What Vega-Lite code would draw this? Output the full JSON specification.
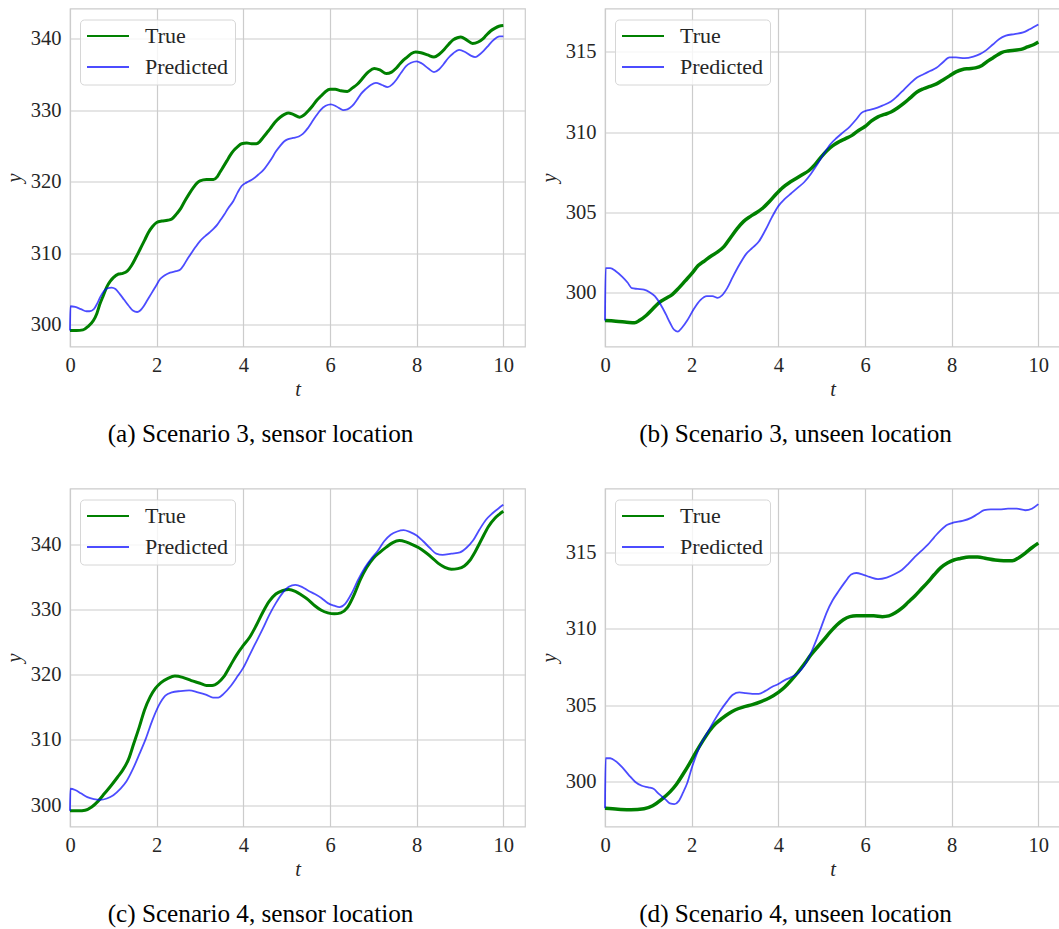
{
  "$schema": "https://vega.github.io/schema/vega-lite/v6.json",
  "background": "white",
  "padding": {"left": 3, "top": 7.5, "right": 0, "bottom": 0},
  "columns": 2,
  "spacing": {"row": 40, "column": 12},
  "config": {
    "font": "Liberation Serif",
    "view": {"stroke": "#cccccc", "strokeWidth": 1.2},
    "axis": {
      "labelFont": "Liberation Serif", "labelFontSize": 20.5, "labelColor": "#262626",
      "titleFont": "Liberation Serif", "titleFontSize": 20.5, "titleFontStyle": "italic", "titleFontWeight": "normal", "titleColor": "#262626",
      "ticks": false, "tickSize": 0, "domain": false, "grid": true, "gridColor": "#cccccc", "gridWidth": 1.2,
      "labelPadding": 9, "labelFlush": false, "labelOverlap": false
    },
    "axisX": {"titlePadding": 3},
    "axisY": {"titlePadding": 6},
    "legend": {
      "title": null, "symbolType": "stroke", "symbolSize": 1764, "symbolStrokeWidth": 2, "clipHeight": 21,
      "labelFont": "Liberation Serif", "labelFontSize": 22, "labelColor": "#262626", "labelOffset": 15,
      "rowPadding": 8, "padding": 6, "strokeColor": "#d6d6d6", "fillColor": "rgba(255,255,255,0.8)", "cornerRadius": 4
    },
    "title": {"orient": "bottom", "font": "Liberation Serif", "fontSize": 25.2, "fontWeight": "normal", "color": "#000000", "offset": 22, "anchor": "middle", "dx": -37}
  },
  "datasets": {
    "a": [
      {"s":"True","t":0,"y":299.2},{"s":"True","t":0.15,"y":299.2},{"s":"True","t":0.3,"y":299.3},{"s":"True","t":0.42,"y":299.8},{"s":"True","t":0.54,"y":300.6},{"s":"True","t":0.62,"y":301.6},{"s":"True","t":0.69,"y":302.9},{"s":"True","t":0.77,"y":304.1},{"s":"True","t":0.85,"y":305.3},{"s":"True","t":0.93,"y":306.1},{"s":"True","t":1.0,"y":306.6},{"s":"True","t":1.12,"y":307.1},{"s":"True","t":1.22,"y":307.2},{"s":"True","t":1.32,"y":307.5},{"s":"True","t":1.42,"y":308.3},{"s":"True","t":1.52,"y":309.4},{"s":"True","t":1.62,"y":310.6},{"s":"True","t":1.72,"y":311.8},{"s":"True","t":1.81,"y":312.9},{"s":"True","t":1.9,"y":313.7},{"s":"True","t":2.0,"y":314.3},{"s":"True","t":2.12,"y":314.5},{"s":"True","t":2.25,"y":314.6},{"s":"True","t":2.35,"y":314.8},{"s":"True","t":2.46,"y":315.5},{"s":"True","t":2.56,"y":316.3},{"s":"True","t":2.65,"y":317.3},{"s":"True","t":2.75,"y":318.3},{"s":"True","t":2.85,"y":319.2},{"s":"True","t":2.93,"y":319.8},{"s":"True","t":3.0,"y":320.1},{"s":"True","t":3.15,"y":320.3},{"s":"True","t":3.31,"y":320.3},{"s":"True","t":3.4,"y":320.7},{"s":"True","t":3.46,"y":321.3},{"s":"True","t":3.54,"y":322.1},{"s":"True","t":3.62,"y":322.9},{"s":"True","t":3.7,"y":323.7},{"s":"True","t":3.77,"y":324.3},{"s":"True","t":3.87,"y":324.9},{"s":"True","t":3.96,"y":325.3},{"s":"True","t":4.08,"y":325.4},{"s":"True","t":4.19,"y":325.3},{"s":"True","t":4.3,"y":325.3},{"s":"True","t":4.38,"y":325.6},{"s":"True","t":4.46,"y":326.2},{"s":"True","t":4.54,"y":326.8},{"s":"True","t":4.62,"y":327.4},{"s":"True","t":4.73,"y":328.3},{"s":"True","t":4.85,"y":329.0},{"s":"True","t":4.95,"y":329.4},{"s":"True","t":5.04,"y":329.6},{"s":"True","t":5.15,"y":329.4},{"s":"True","t":5.3,"y":329.0},{"s":"True","t":5.4,"y":329.3},{"s":"True","t":5.5,"y":329.9},{"s":"True","t":5.6,"y":330.6},{"s":"True","t":5.7,"y":331.4},{"s":"True","t":5.8,"y":332.0},{"s":"True","t":5.9,"y":332.6},{"s":"True","t":6.0,"y":332.9},{"s":"True","t":6.12,"y":332.9},{"s":"True","t":6.25,"y":332.7},{"s":"True","t":6.4,"y":332.6},{"s":"True","t":6.52,"y":333.1},{"s":"True","t":6.63,"y":333.6},{"s":"True","t":6.72,"y":334.2},{"s":"True","t":6.8,"y":334.8},{"s":"True","t":6.9,"y":335.4},{"s":"True","t":7.02,"y":335.8},{"s":"True","t":7.15,"y":335.6},{"s":"True","t":7.3,"y":335.1},{"s":"True","t":7.42,"y":335.3},{"s":"True","t":7.52,"y":335.8},{"s":"True","t":7.62,"y":336.5},{"s":"True","t":7.7,"y":337.0},{"s":"True","t":7.78,"y":337.4},{"s":"True","t":7.88,"y":337.9},{"s":"True","t":7.98,"y":338.1},{"s":"True","t":8.1,"y":338.0},{"s":"True","t":8.25,"y":337.7},{"s":"True","t":8.4,"y":337.4},{"s":"True","t":8.52,"y":337.8},{"s":"True","t":8.64,"y":338.5},{"s":"True","t":8.74,"y":339.2},{"s":"True","t":8.84,"y":339.8},{"s":"True","t":8.94,"y":340.1},{"s":"True","t":9.02,"y":340.2},{"s":"True","t":9.15,"y":339.8},{"s":"True","t":9.29,"y":339.3},{"s":"True","t":9.42,"y":339.5},{"s":"True","t":9.52,"y":339.9},{"s":"True","t":9.6,"y":340.4},{"s":"True","t":9.7,"y":341.0},{"s":"True","t":9.8,"y":341.4},{"s":"True","t":9.9,"y":341.7},{"s":"True","t":10,"y":341.8},
      {"s":"Predicted","t":0,"y":299.2},{"s":"Predicted","t":0.01,"y":302.6},{"s":"Predicted","t":0.12,"y":302.5},{"s":"Predicted","t":0.25,"y":302.2},{"s":"Predicted","t":0.38,"y":301.9},{"s":"Predicted","t":0.45,"y":301.9},{"s":"Predicted","t":0.55,"y":302.2},{"s":"Predicted","t":0.63,"y":303.0},{"s":"Predicted","t":0.7,"y":303.9},{"s":"Predicted","t":0.78,"y":304.7},{"s":"Predicted","t":0.86,"y":305.1},{"s":"Predicted","t":0.96,"y":305.2},{"s":"Predicted","t":1.05,"y":305.0},{"s":"Predicted","t":1.15,"y":304.3},{"s":"Predicted","t":1.25,"y":303.5},{"s":"Predicted","t":1.35,"y":302.7},{"s":"Predicted","t":1.45,"y":302.0},{"s":"Predicted","t":1.55,"y":301.8},{"s":"Predicted","t":1.62,"y":302.0},{"s":"Predicted","t":1.7,"y":302.6},{"s":"Predicted","t":1.78,"y":303.4},{"s":"Predicted","t":1.88,"y":304.4},{"s":"Predicted","t":1.98,"y":305.4},{"s":"Predicted","t":2.08,"y":306.4},{"s":"Predicted","t":2.18,"y":306.9},{"s":"Predicted","t":2.31,"y":307.3},{"s":"Predicted","t":2.45,"y":307.5},{"s":"Predicted","t":2.54,"y":307.7},{"s":"Predicted","t":2.63,"y":308.4},{"s":"Predicted","t":2.72,"y":309.3},{"s":"Predicted","t":2.81,"y":310.1},{"s":"Predicted","t":2.9,"y":310.9},{"s":"Predicted","t":3.0,"y":311.7},{"s":"Predicted","t":3.12,"y":312.4},{"s":"Predicted","t":3.22,"y":312.9},{"s":"Predicted","t":3.31,"y":313.4},{"s":"Predicted","t":3.4,"y":314.0},{"s":"Predicted","t":3.48,"y":314.7},{"s":"Predicted","t":3.56,"y":315.4},{"s":"Predicted","t":3.65,"y":316.3},{"s":"Predicted","t":3.77,"y":317.3},{"s":"Predicted","t":3.87,"y":318.5},{"s":"Predicted","t":3.96,"y":319.4},{"s":"Predicted","t":4.08,"y":319.9},{"s":"Predicted","t":4.23,"y":320.4},{"s":"Predicted","t":4.35,"y":321.0},{"s":"Predicted","t":4.46,"y":321.6},{"s":"Predicted","t":4.56,"y":322.4},{"s":"Predicted","t":4.65,"y":323.2},{"s":"Predicted","t":4.75,"y":324.2},{"s":"Predicted","t":4.85,"y":325.0},{"s":"Predicted","t":4.94,"y":325.6},{"s":"Predicted","t":5.02,"y":325.9},{"s":"Predicted","t":5.15,"y":326.1},{"s":"Predicted","t":5.28,"y":326.3},{"s":"Predicted","t":5.38,"y":326.7},{"s":"Predicted","t":5.48,"y":327.4},{"s":"Predicted","t":5.58,"y":328.3},{"s":"Predicted","t":5.68,"y":329.2},{"s":"Predicted","t":5.78,"y":330.0},{"s":"Predicted","t":5.9,"y":330.6},{"s":"Predicted","t":6.02,"y":330.8},{"s":"Predicted","t":6.15,"y":330.5},{"s":"Predicted","t":6.3,"y":330.0},{"s":"Predicted","t":6.4,"y":330.1},{"s":"Predicted","t":6.52,"y":330.6},{"s":"Predicted","t":6.62,"y":331.4},{"s":"Predicted","t":6.72,"y":332.3},{"s":"Predicted","t":6.82,"y":332.9},{"s":"Predicted","t":6.94,"y":333.5},{"s":"Predicted","t":7.06,"y":333.8},{"s":"Predicted","t":7.2,"y":333.5},{"s":"Predicted","t":7.33,"y":333.2},{"s":"Predicted","t":7.44,"y":333.6},{"s":"Predicted","t":7.54,"y":334.3},{"s":"Predicted","t":7.64,"y":335.2},{"s":"Predicted","t":7.75,"y":336.1},{"s":"Predicted","t":7.87,"y":336.6},{"s":"Predicted","t":8.0,"y":336.8},{"s":"Predicted","t":8.12,"y":336.5},{"s":"Predicted","t":8.27,"y":335.8},{"s":"Predicted","t":8.4,"y":335.3},{"s":"Predicted","t":8.52,"y":335.7},{"s":"Predicted","t":8.62,"y":336.4},{"s":"Predicted","t":8.72,"y":337.2},{"s":"Predicted","t":8.84,"y":337.9},{"s":"Predicted","t":8.98,"y":338.4},{"s":"Predicted","t":9.12,"y":338.1},{"s":"Predicted","t":9.25,"y":337.6},{"s":"Predicted","t":9.35,"y":337.4},{"s":"Predicted","t":9.46,"y":337.8},{"s":"Predicted","t":9.55,"y":338.3},{"s":"Predicted","t":9.64,"y":338.9},{"s":"Predicted","t":9.74,"y":339.6},{"s":"Predicted","t":9.84,"y":340.1},{"s":"Predicted","t":9.92,"y":340.3},{"s":"Predicted","t":10,"y":340.3}
    ],
    "b": [
      {"s":"True","t":0,"y":298.28},{"s":"True","t":0.25,"y":298.24},{"s":"True","t":0.5,"y":298.18},{"s":"True","t":0.68,"y":298.14},{"s":"True","t":0.8,"y":298.3},{"s":"True","t":0.95,"y":298.6},{"s":"True","t":1.1,"y":299.0},{"s":"True","t":1.25,"y":299.4},{"s":"True","t":1.4,"y":299.65},{"s":"True","t":1.55,"y":299.9},{"s":"True","t":1.7,"y":300.3},{"s":"True","t":1.85,"y":300.75},{"s":"True","t":2.0,"y":301.2},{"s":"True","t":2.15,"y":301.7},{"s":"True","t":2.3,"y":302.0},{"s":"True","t":2.45,"y":302.3},{"s":"True","t":2.6,"y":302.55},{"s":"True","t":2.75,"y":302.9},{"s":"True","t":2.9,"y":303.45},{"s":"True","t":3.05,"y":304.0},{"s":"True","t":3.2,"y":304.45},{"s":"True","t":3.35,"y":304.75},{"s":"True","t":3.5,"y":305.0},{"s":"True","t":3.65,"y":305.3},{"s":"True","t":3.8,"y":305.7},{"s":"True","t":3.95,"y":306.15},{"s":"True","t":4.1,"y":306.55},{"s":"True","t":4.25,"y":306.85},{"s":"True","t":4.4,"y":307.1},{"s":"True","t":4.55,"y":307.35},{"s":"True","t":4.7,"y":307.6},{"s":"True","t":4.85,"y":308.0},{"s":"True","t":5.0,"y":308.5},{"s":"True","t":5.12,"y":308.85},{"s":"True","t":5.25,"y":309.15},{"s":"True","t":5.4,"y":309.4},{"s":"True","t":5.55,"y":309.6},{"s":"True","t":5.7,"y":309.8},{"s":"True","t":5.85,"y":310.1},{"s":"True","t":6.0,"y":310.35},{"s":"True","t":6.15,"y":310.7},{"s":"True","t":6.3,"y":310.95},{"s":"True","t":6.45,"y":311.1},{"s":"True","t":6.6,"y":311.25},{"s":"True","t":6.75,"y":311.5},{"s":"True","t":6.9,"y":311.8},{"s":"True","t":7.05,"y":312.15},{"s":"True","t":7.2,"y":312.5},{"s":"True","t":7.35,"y":312.7},{"s":"True","t":7.5,"y":312.85},{"s":"True","t":7.65,"y":313.0},{"s":"True","t":7.8,"y":313.25},{"s":"True","t":7.95,"y":313.5},{"s":"True","t":8.1,"y":313.75},{"s":"True","t":8.25,"y":313.9},{"s":"True","t":8.4,"y":313.95},{"s":"True","t":8.55,"y":314.0},{"s":"True","t":8.7,"y":314.15},{"s":"True","t":8.85,"y":314.45},{"s":"True","t":9.0,"y":314.7},{"s":"True","t":9.15,"y":314.95},{"s":"True","t":9.3,"y":315.05},{"s":"True","t":9.45,"y":315.1},{"s":"True","t":9.6,"y":315.15},{"s":"True","t":9.75,"y":315.3},{"s":"True","t":9.9,"y":315.45},{"s":"True","t":10,"y":315.6},
      {"s":"Predicted","t":0,"y":298.28},{"s":"Predicted","t":0.015,"y":301.55},{"s":"Predicted","t":0.12,"y":301.55},{"s":"Predicted","t":0.25,"y":301.35},{"s":"Predicted","t":0.4,"y":301.0},{"s":"Predicted","t":0.52,"y":300.65},{"s":"Predicted","t":0.62,"y":300.3},{"s":"Predicted","t":0.75,"y":300.25},{"s":"Predicted","t":0.9,"y":300.2},{"s":"Predicted","t":1.03,"y":300.05},{"s":"Predicted","t":1.15,"y":299.8},{"s":"Predicted","t":1.28,"y":299.3},{"s":"Predicted","t":1.4,"y":298.7},{"s":"Predicted","t":1.5,"y":298.15},{"s":"Predicted","t":1.6,"y":297.7},{"s":"Predicted","t":1.68,"y":297.6},{"s":"Predicted","t":1.78,"y":297.85},{"s":"Predicted","t":1.9,"y":298.3},{"s":"Predicted","t":2.05,"y":299.0},{"s":"Predicted","t":2.2,"y":299.55},{"s":"Predicted","t":2.35,"y":299.8},{"s":"Predicted","t":2.48,"y":299.8},{"s":"Predicted","t":2.6,"y":299.7},{"s":"Predicted","t":2.7,"y":299.85},{"s":"Predicted","t":2.82,"y":300.3},{"s":"Predicted","t":2.95,"y":301.0},{"s":"Predicted","t":3.1,"y":301.75},{"s":"Predicted","t":3.25,"y":302.4},{"s":"Predicted","t":3.4,"y":302.8},{"s":"Predicted","t":3.55,"y":303.2},{"s":"Predicted","t":3.7,"y":303.9},{"s":"Predicted","t":3.85,"y":304.7},{"s":"Predicted","t":4.0,"y":305.4},{"s":"Predicted","t":4.15,"y":305.85},{"s":"Predicted","t":4.3,"y":306.2},{"s":"Predicted","t":4.45,"y":306.55},{"s":"Predicted","t":4.6,"y":306.9},{"s":"Predicted","t":4.75,"y":307.4},{"s":"Predicted","t":4.9,"y":308.0},{"s":"Predicted","t":5.05,"y":308.65},{"s":"Predicted","t":5.2,"y":309.25},{"s":"Predicted","t":5.35,"y":309.65},{"s":"Predicted","t":5.5,"y":310.0},{"s":"Predicted","t":5.65,"y":310.35},{"s":"Predicted","t":5.8,"y":310.8},{"s":"Predicted","t":5.92,"y":311.2},{"s":"Predicted","t":6.05,"y":311.35},{"s":"Predicted","t":6.2,"y":311.45},{"s":"Predicted","t":6.4,"y":311.65},{"s":"Predicted","t":6.6,"y":311.9},{"s":"Predicted","t":6.75,"y":312.25},{"s":"Predicted","t":6.9,"y":312.65},{"s":"Predicted","t":7.05,"y":313.05},{"s":"Predicted","t":7.2,"y":313.4},{"s":"Predicted","t":7.35,"y":313.6},{"s":"Predicted","t":7.5,"y":313.8},{"s":"Predicted","t":7.65,"y":314.0},{"s":"Predicted","t":7.8,"y":314.35},{"s":"Predicted","t":7.95,"y":314.65},{"s":"Predicted","t":8.1,"y":314.65},{"s":"Predicted","t":8.3,"y":314.6},{"s":"Predicted","t":8.5,"y":314.7},{"s":"Predicted","t":8.65,"y":314.85},{"s":"Predicted","t":8.8,"y":315.1},{"s":"Predicted","t":8.95,"y":315.45},{"s":"Predicted","t":9.1,"y":315.8},{"s":"Predicted","t":9.25,"y":316.0},{"s":"Predicted","t":9.45,"y":316.1},{"s":"Predicted","t":9.65,"y":316.2},{"s":"Predicted","t":9.8,"y":316.4},{"s":"Predicted","t":10,"y":316.7}
    ],
    "c": [
      {"s":"True","t":0,"y":299.1},{"s":"True","t":0.2,"y":299.1},{"s":"True","t":0.35,"y":299.2},{"s":"True","t":0.5,"y":299.7},{"s":"True","t":0.65,"y":300.6},{"s":"True","t":0.8,"y":301.8},{"s":"True","t":0.95,"y":303.0},{"s":"True","t":1.1,"y":304.3},{"s":"True","t":1.22,"y":305.4},{"s":"True","t":1.35,"y":307.0},{"s":"True","t":1.47,"y":309.4},{"s":"True","t":1.6,"y":312.0},{"s":"True","t":1.72,"y":314.6},{"s":"True","t":1.85,"y":316.6},{"s":"True","t":1.97,"y":317.9},{"s":"True","t":2.1,"y":318.8},{"s":"True","t":2.25,"y":319.4},{"s":"True","t":2.42,"y":319.8},{"s":"True","t":2.6,"y":319.6},{"s":"True","t":2.8,"y":319.1},{"s":"True","t":3.0,"y":318.7},{"s":"True","t":3.15,"y":318.35},{"s":"True","t":3.28,"y":318.35},{"s":"True","t":3.42,"y":318.8},{"s":"True","t":3.55,"y":319.7},{"s":"True","t":3.7,"y":321.4},{"s":"True","t":3.85,"y":323.1},{"s":"True","t":4.0,"y":324.5},{"s":"True","t":4.15,"y":325.8},{"s":"True","t":4.3,"y":327.6},{"s":"True","t":4.45,"y":329.6},{"s":"True","t":4.6,"y":331.3},{"s":"True","t":4.75,"y":332.4},{"s":"True","t":4.9,"y":332.9},{"s":"True","t":5.05,"y":333.1},{"s":"True","t":5.2,"y":332.8},{"s":"True","t":5.35,"y":332.2},{"s":"True","t":5.5,"y":331.5},{"s":"True","t":5.65,"y":330.6},{"s":"True","t":5.8,"y":329.9},{"s":"True","t":5.95,"y":329.5},{"s":"True","t":6.1,"y":329.35},{"s":"True","t":6.25,"y":329.5},{"s":"True","t":6.4,"y":330.3},{"s":"True","t":6.55,"y":332.2},{"s":"True","t":6.7,"y":334.6},{"s":"True","t":6.85,"y":336.5},{"s":"True","t":7.0,"y":337.9},{"s":"True","t":7.15,"y":338.8},{"s":"True","t":7.3,"y":339.6},{"s":"True","t":7.45,"y":340.3},{"s":"True","t":7.6,"y":340.6},{"s":"True","t":7.75,"y":340.4},{"s":"True","t":7.9,"y":340.0},{"s":"True","t":8.05,"y":339.5},{"s":"True","t":8.2,"y":338.8},{"s":"True","t":8.35,"y":338.0},{"s":"True","t":8.5,"y":337.1},{"s":"True","t":8.65,"y":336.5},{"s":"True","t":8.8,"y":336.2},{"s":"True","t":8.95,"y":336.3},{"s":"True","t":9.1,"y":336.7},{"s":"True","t":9.22,"y":337.5},{"s":"True","t":9.35,"y":338.9},{"s":"True","t":9.5,"y":340.8},{"s":"True","t":9.65,"y":342.7},{"s":"True","t":9.8,"y":344.0},{"s":"True","t":9.9,"y":344.6},{"s":"True","t":10,"y":345.1},
      {"s":"Predicted","t":0,"y":299.1},{"s":"Predicted","t":0.01,"y":302.5},{"s":"Predicted","t":0.12,"y":302.3},{"s":"Predicted","t":0.25,"y":301.8},{"s":"Predicted","t":0.4,"y":301.2},{"s":"Predicted","t":0.55,"y":300.9},{"s":"Predicted","t":0.7,"y":300.8},{"s":"Predicted","t":0.85,"y":301.0},{"s":"Predicted","t":1.0,"y":301.5},{"s":"Predicted","t":1.15,"y":302.4},{"s":"Predicted","t":1.3,"y":303.6},{"s":"Predicted","t":1.45,"y":305.5},{"s":"Predicted","t":1.6,"y":307.8},{"s":"Predicted","t":1.75,"y":310.2},{"s":"Predicted","t":1.9,"y":313.0},{"s":"Predicted","t":2.05,"y":315.3},{"s":"Predicted","t":2.2,"y":316.8},{"s":"Predicted","t":2.35,"y":317.3},{"s":"Predicted","t":2.55,"y":317.5},{"s":"Predicted","t":2.75,"y":317.6},{"s":"Predicted","t":2.95,"y":317.3},{"s":"Predicted","t":3.15,"y":316.9},{"s":"Predicted","t":3.3,"y":316.5},{"s":"Predicted","t":3.42,"y":316.5},{"s":"Predicted","t":3.55,"y":317.1},{"s":"Predicted","t":3.7,"y":318.2},{"s":"Predicted","t":3.85,"y":319.6},{"s":"Predicted","t":4.0,"y":321.1},{"s":"Predicted","t":4.15,"y":323.1},{"s":"Predicted","t":4.3,"y":325.1},{"s":"Predicted","t":4.45,"y":327.1},{"s":"Predicted","t":4.6,"y":329.2},{"s":"Predicted","t":4.75,"y":331.0},{"s":"Predicted","t":4.9,"y":332.5},{"s":"Predicted","t":5.05,"y":333.5},{"s":"Predicted","t":5.2,"y":333.8},{"s":"Predicted","t":5.35,"y":333.5},{"s":"Predicted","t":5.5,"y":332.9},{"s":"Predicted","t":5.65,"y":332.4},{"s":"Predicted","t":5.8,"y":331.8},{"s":"Predicted","t":5.95,"y":331.0},{"s":"Predicted","t":6.1,"y":330.6},{"s":"Predicted","t":6.22,"y":330.4},{"s":"Predicted","t":6.35,"y":330.9},{"s":"Predicted","t":6.5,"y":332.5},{"s":"Predicted","t":6.65,"y":334.6},{"s":"Predicted","t":6.8,"y":336.4},{"s":"Predicted","t":6.95,"y":337.8},{"s":"Predicted","t":7.1,"y":339.0},{"s":"Predicted","t":7.25,"y":340.5},{"s":"Predicted","t":7.4,"y":341.5},{"s":"Predicted","t":7.55,"y":342.0},{"s":"Predicted","t":7.7,"y":342.2},{"s":"Predicted","t":7.85,"y":341.9},{"s":"Predicted","t":8.0,"y":341.4},{"s":"Predicted","t":8.15,"y":340.5},{"s":"Predicted","t":8.3,"y":339.5},{"s":"Predicted","t":8.45,"y":338.6},{"s":"Predicted","t":8.6,"y":338.4},{"s":"Predicted","t":8.8,"y":338.6},{"s":"Predicted","t":9.0,"y":338.8},{"s":"Predicted","t":9.15,"y":339.5},{"s":"Predicted","t":9.3,"y":340.6},{"s":"Predicted","t":9.45,"y":342.3},{"s":"Predicted","t":9.6,"y":343.8},{"s":"Predicted","t":9.75,"y":344.8},{"s":"Predicted","t":9.9,"y":345.6},{"s":"Predicted","t":10,"y":346.1}
    ],
    "d": [
      {"s":"True","t":0,"y":298.28},{"s":"True","t":0.3,"y":298.22},{"s":"True","t":0.6,"y":298.18},{"s":"True","t":0.9,"y":298.25},{"s":"True","t":1.1,"y":298.45},{"s":"True","t":1.3,"y":298.85},{"s":"True","t":1.5,"y":299.35},{"s":"True","t":1.65,"y":299.85},{"s":"True","t":1.8,"y":300.5},{"s":"True","t":1.95,"y":301.2},{"s":"True","t":2.1,"y":301.95},{"s":"True","t":2.25,"y":302.65},{"s":"True","t":2.4,"y":303.3},{"s":"True","t":2.55,"y":303.8},{"s":"True","t":2.7,"y":304.15},{"s":"True","t":2.85,"y":304.45},{"s":"True","t":3.0,"y":304.7},{"s":"True","t":3.2,"y":304.9},{"s":"True","t":3.4,"y":305.05},{"s":"True","t":3.6,"y":305.25},{"s":"True","t":3.8,"y":305.5},{"s":"True","t":4.0,"y":305.85},{"s":"True","t":4.15,"y":306.2},{"s":"True","t":4.3,"y":306.65},{"s":"True","t":4.45,"y":307.15},{"s":"True","t":4.6,"y":307.7},{"s":"True","t":4.75,"y":308.3},{"s":"True","t":4.9,"y":308.8},{"s":"True","t":5.05,"y":309.3},{"s":"True","t":5.2,"y":309.8},{"s":"True","t":5.35,"y":310.25},{"s":"True","t":5.5,"y":310.6},{"s":"True","t":5.65,"y":310.8},{"s":"True","t":5.8,"y":310.85},{"s":"True","t":6.0,"y":310.85},{"s":"True","t":6.2,"y":310.85},{"s":"True","t":6.4,"y":310.8},{"s":"True","t":6.55,"y":310.85},{"s":"True","t":6.7,"y":311.05},{"s":"True","t":6.85,"y":311.35},{"s":"True","t":7.0,"y":311.75},{"s":"True","t":7.15,"y":312.15},{"s":"True","t":7.3,"y":312.6},{"s":"True","t":7.45,"y":313.05},{"s":"True","t":7.6,"y":313.55},{"s":"True","t":7.75,"y":314.0},{"s":"True","t":7.9,"y":314.3},{"s":"True","t":8.05,"y":314.5},{"s":"True","t":8.2,"y":314.6},{"s":"True","t":8.4,"y":314.7},{"s":"True","t":8.6,"y":314.7},{"s":"True","t":8.8,"y":314.6},{"s":"True","t":9.0,"y":314.5},{"s":"True","t":9.2,"y":314.45},{"s":"True","t":9.4,"y":314.45},{"s":"True","t":9.55,"y":314.65},{"s":"True","t":9.7,"y":314.95},{"s":"True","t":9.85,"y":315.3},{"s":"True","t":10,"y":315.6},
      {"s":"Predicted","t":0,"y":298.28},{"s":"Predicted","t":0.015,"y":301.55},{"s":"Predicted","t":0.12,"y":301.55},{"s":"Predicted","t":0.25,"y":301.35},{"s":"Predicted","t":0.4,"y":300.95},{"s":"Predicted","t":0.55,"y":300.45},{"s":"Predicted","t":0.7,"y":300.0},{"s":"Predicted","t":0.85,"y":299.75},{"s":"Predicted","t":1.0,"y":299.65},{"s":"Predicted","t":1.12,"y":299.55},{"s":"Predicted","t":1.25,"y":299.2},{"s":"Predicted","t":1.4,"y":298.85},{"s":"Predicted","t":1.5,"y":298.6},{"s":"Predicted","t":1.6,"y":298.55},{"s":"Predicted","t":1.7,"y":298.75},{"s":"Predicted","t":1.8,"y":299.3},{"s":"Predicted","t":1.9,"y":299.95},{"s":"Predicted","t":2.0,"y":300.9},{"s":"Predicted","t":2.1,"y":301.7},{"s":"Predicted","t":2.2,"y":302.4},{"s":"Predicted","t":2.35,"y":303.15},{"s":"Predicted","t":2.5,"y":303.9},{"s":"Predicted","t":2.65,"y":304.6},{"s":"Predicted","t":2.8,"y":305.2},{"s":"Predicted","t":2.95,"y":305.7},{"s":"Predicted","t":3.1,"y":305.85},{"s":"Predicted","t":3.25,"y":305.8},{"s":"Predicted","t":3.4,"y":305.75},{"s":"Predicted","t":3.55,"y":305.75},{"s":"Predicted","t":3.7,"y":305.95},{"s":"Predicted","t":3.85,"y":306.2},{"s":"Predicted","t":4.0,"y":306.4},{"s":"Predicted","t":4.15,"y":306.65},{"s":"Predicted","t":4.3,"y":306.85},{"s":"Predicted","t":4.45,"y":307.1},{"s":"Predicted","t":4.6,"y":307.6},{"s":"Predicted","t":4.75,"y":308.4},{"s":"Predicted","t":4.88,"y":309.3},{"s":"Predicted","t":5.0,"y":310.2},{"s":"Predicted","t":5.12,"y":311.1},{"s":"Predicted","t":5.25,"y":311.85},{"s":"Predicted","t":5.4,"y":312.5},{"s":"Predicted","t":5.55,"y":313.1},{"s":"Predicted","t":5.68,"y":313.55},{"s":"Predicted","t":5.8,"y":313.65},{"s":"Predicted","t":5.95,"y":313.55},{"s":"Predicted","t":6.1,"y":313.4},{"s":"Predicted","t":6.3,"y":313.25},{"s":"Predicted","t":6.5,"y":313.35},{"s":"Predicted","t":6.7,"y":313.6},{"s":"Predicted","t":6.85,"y":313.85},{"s":"Predicted","t":7.0,"y":314.25},{"s":"Predicted","t":7.15,"y":314.7},{"s":"Predicted","t":7.3,"y":315.1},{"s":"Predicted","t":7.45,"y":315.5},{"s":"Predicted","t":7.6,"y":316.0},{"s":"Predicted","t":7.75,"y":316.45},{"s":"Predicted","t":7.9,"y":316.8},{"s":"Predicted","t":8.05,"y":316.95},{"s":"Predicted","t":8.25,"y":317.05},{"s":"Predicted","t":8.45,"y":317.25},{"s":"Predicted","t":8.6,"y":317.5},{"s":"Predicted","t":8.75,"y":317.75},{"s":"Predicted","t":8.9,"y":317.8},{"s":"Predicted","t":9.1,"y":317.8},{"s":"Predicted","t":9.3,"y":317.85},{"s":"Predicted","t":9.5,"y":317.85},{"s":"Predicted","t":9.7,"y":317.75},{"s":"Predicted","t":9.85,"y":317.85},{"s":"Predicted","t":10,"y":318.15}
    ]
  },
  "concat": [
    {
      "width": 455, "height": 338,
      "title": "(a) Scenario 3, sensor location",
      "data": {"name": "a"},
      "encoding": {
        "x": {"field": "t", "type": "quantitative", "title": "t", "scale": {"domain": [0, 10.5], "nice": false, "zero": false}, "axis": {"values": [0, 2, 4, 6, 8, 10]}},
        "y": {"field": "y", "type": "quantitative", "title": "y", "scale": {"domain": [296.98, 344.18], "nice": false, "zero": false}, "axis": {"values": [300, 310, 320, 330, 340]}},
        "color": {"field": "s", "type": "nominal", "scale": {"domain": ["True", "Predicted"], "range": ["#008000", "#0000ff"]}, "legend": {"orient": "none", "legendX": 10, "legendY": 11, "encode": {"symbols": {"update": {"strokeOpacity": {"signal": "datum.value == 'Predicted' ? 0.7 : 1"}}}}}}
      },
      "layer": [
        {"transform": [{"filter": "datum.s == 'True'"}], "mark": {"type": "line", "interpolate": "monotone", "strokeWidth": 3}},
        {"transform": [{"filter": "datum.s == 'Predicted'"}], "mark": {"type": "line", "interpolate": "monotone", "strokeWidth": 1.8, "strokeOpacity": 0.7}}
      ]
    },
    {
      "width": 455, "height": 338,
      "title": "(b) Scenario 3, unseen location",
      "data": {"name": "b"},
      "encoding": {
        "x": {"field": "t", "type": "quantitative", "title": "t", "scale": {"domain": [0, 10.5], "nice": false, "zero": false}, "axis": {"values": [0, 2, 4, 6, 8, 10]}},
        "y": {"field": "y", "type": "quantitative", "title": "y", "scale": {"domain": [296.67, 317.69], "nice": false, "zero": false}, "axis": {"values": [300, 305, 310, 315]}},
        "color": {"field": "s", "type": "nominal", "scale": {"domain": ["True", "Predicted"], "range": ["#008000", "#0000ff"]}, "legend": {"orient": "none", "legendX": 10, "legendY": 11, "encode": {"symbols": {"update": {"strokeOpacity": {"signal": "datum.value == 'Predicted' ? 0.7 : 1"}}}}}}
      },
      "layer": [
        {"transform": [{"filter": "datum.s == 'True'"}], "mark": {"type": "line", "interpolate": "monotone", "strokeWidth": 3.5}},
        {"transform": [{"filter": "datum.s == 'Predicted'"}], "mark": {"type": "line", "interpolate": "monotone", "strokeWidth": 1.8, "strokeOpacity": 0.7}}
      ]
    },
    {
      "width": 455, "height": 338,
      "title": "(c) Scenario 4, sensor location",
      "data": {"name": "c"},
      "encoding": {
        "x": {"field": "t", "type": "quantitative", "title": "t", "scale": {"domain": [0, 10.5], "nice": false, "zero": false}, "axis": {"values": [0, 2, 4, 6, 8, 10]}},
        "y": {"field": "y", "type": "quantitative", "title": "y", "scale": {"domain": [296.7, 348.6], "nice": false, "zero": false}, "axis": {"values": [300, 310, 320, 330, 340]}},
        "color": {"field": "s", "type": "nominal", "scale": {"domain": ["True", "Predicted"], "range": ["#008000", "#0000ff"]}, "legend": {"orient": "none", "legendX": 10, "legendY": 11, "encode": {"symbols": {"update": {"strokeOpacity": {"signal": "datum.value == 'Predicted' ? 0.7 : 1"}}}}}}
      },
      "layer": [
        {"transform": [{"filter": "datum.s == 'True'"}], "mark": {"type": "line", "interpolate": "monotone", "strokeWidth": 3}},
        {"transform": [{"filter": "datum.s == 'Predicted'"}], "mark": {"type": "line", "interpolate": "monotone", "strokeWidth": 1.8, "strokeOpacity": 0.7}}
      ]
    },
    {
      "width": 455, "height": 338,
      "title": "(d) Scenario 4, unseen location",
      "data": {"name": "d"},
      "encoding": {
        "x": {"field": "t", "type": "quantitative", "title": "t", "scale": {"domain": [0, 10.5], "nice": false, "zero": false}, "axis": {"values": [0, 2, 4, 6, 8, 10]}},
        "y": {"field": "y", "type": "quantitative", "title": "y", "scale": {"domain": [297.09, 319.17], "nice": false, "zero": false}, "axis": {"values": [300, 305, 310, 315]}},
        "color": {"field": "s", "type": "nominal", "scale": {"domain": ["True", "Predicted"], "range": ["#008000", "#0000ff"]}, "legend": {"orient": "none", "legendX": 10, "legendY": 11, "encode": {"symbols": {"update": {"strokeOpacity": {"signal": "datum.value == 'Predicted' ? 0.7 : 1"}}}}}}
      },
      "layer": [
        {"transform": [{"filter": "datum.s == 'True'"}], "mark": {"type": "line", "interpolate": "monotone", "strokeWidth": 3.5}},
        {"transform": [{"filter": "datum.s == 'Predicted'"}], "mark": {"type": "line", "interpolate": "monotone", "strokeWidth": 1.8, "strokeOpacity": 0.7}}
      ]
    }
  ],
  "resolve": {"scale": {"color": "independent"}, "legend": {"color": "independent"}}
}
